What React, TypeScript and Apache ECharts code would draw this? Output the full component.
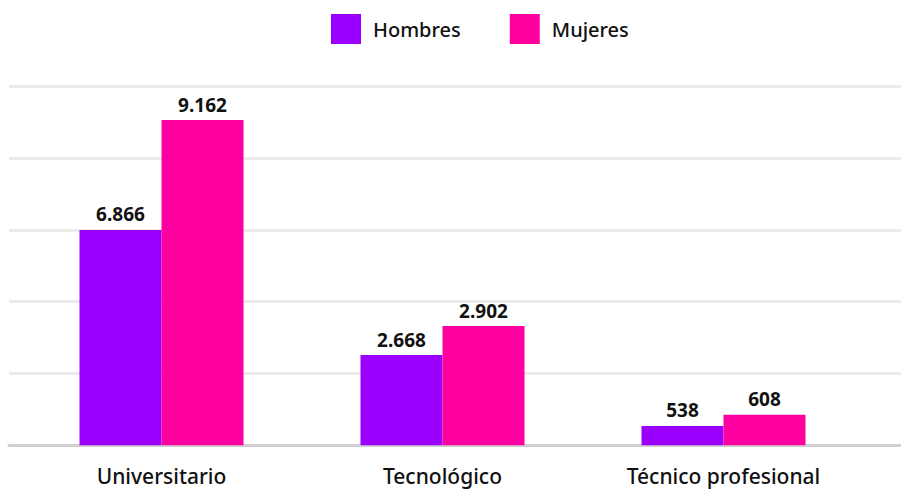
import React, { useEffect, useRef } from "react";
import * as echarts from "echarts";

const categories = ["Universitario", "Tecnológico", "Técnico profesional"];
// Printed value labels
const hombresLabels = ["6.866", "2.668", "538"];
const mujeresLabels = ["9.162", "2.902", "608"];
// Bar heights as drawn in the picture (grid step = 2000)
const hombresHeights = [6000, 2515, 538];
const mujeresHeights = [9060, 3320, 852];
const yMax = 10000;
const yInterval = 2000;

const FONT = "'Noto Sans', Lato, sans-serif";

export default function App() {
  const ref = useRef<HTMLDivElement>(null);
  useEffect(() => {
    document.body.style.margin = "0";
    const chart = echarts.init(ref.current!, null, { renderer: "svg" });
    const labelStyle = {
      show: true,
      position: "top" as const,
      distance: 6,
      fontFamily: FONT,
      fontSize: 19,
      fontWeight: "bold" as const,
      color: "#111",
    };
    chart.setOption({
      animation: false,
      backgroundColor: "#fff",
      textStyle: { fontFamily: FONT },
      legend: {
        left: 326,
        top: 9,
        itemWidth: 30,
        itemHeight: 30,
        itemGap: 49,
        icon: "rect",
        textStyle: { fontSize: 20, fontWeight: 500, color: "#111", fontFamily: FONT, padding: [0, 0, 0, 7] },
        data: ["Hombres", "Mujeres"],
      },
      grid: [
        { left: 9, right: 0, top: 86.3, bottom: 43.7 },
        { left: 21, right: 37, top: 86.3, bottom: 43.7 },
      ],
      xAxis: [
        {
          gridIndex: 0,
          type: "category",
          data: categories,
          axisLine: { show: true, lineStyle: { color: "#d0d0d0", width: 3 } },
          axisTick: { show: false },
          axisLabel: { show: false },
        },
        {
          gridIndex: 1,
          type: "category",
          data: categories,
          axisLine: { show: false },
          axisTick: { show: false },
          axisLabel: {
            margin: 20,
            fontSize: 21,
            fontWeight: 500,
            color: "#111",
            fontFamily: FONT,
          },
        },
      ],
      yAxis: [
        {
          gridIndex: 0,
          type: "value",
          min: 0,
          max: yMax,
          interval: yInterval,
          axisLabel: { show: false },
          axisLine: { show: false },
          axisTick: { show: false },
          splitLine: { show: true, lineStyle: { color: "#ebebeb", width: 3 } },
        },
        {
          gridIndex: 1,
          type: "value",
          min: 0,
          max: yMax,
          interval: yInterval,
          axisLabel: { show: false },
          axisLine: { show: false },
          axisTick: { show: false },
          splitLine: { show: false },
        },
      ],
      series: [
        {
          name: "Hombres",
          type: "bar",
          xAxisIndex: 1,
          yAxisIndex: 1,
          data: hombresHeights,
          barWidth: 82,
          barGap: "0%",
          itemStyle: { color: "#9b00ff" },
          label: { ...labelStyle, formatter: (p: any) => hombresLabels[p.dataIndex] },
          z: 5,
        },
        {
          name: "Mujeres",
          type: "bar",
          xAxisIndex: 1,
          yAxisIndex: 1,
          data: mujeresHeights,
          barWidth: 82,
          barGap: "0%",
          itemStyle: { color: "#ff00a0" },
          label: { ...labelStyle, formatter: (p: any) => mujeresLabels[p.dataIndex] },
          z: 5,
        },
      ],
    });
    return () => chart.dispose();
  }, []);
  return <div ref={ref} style={{ width: 901, height: 489 }} />;
}
